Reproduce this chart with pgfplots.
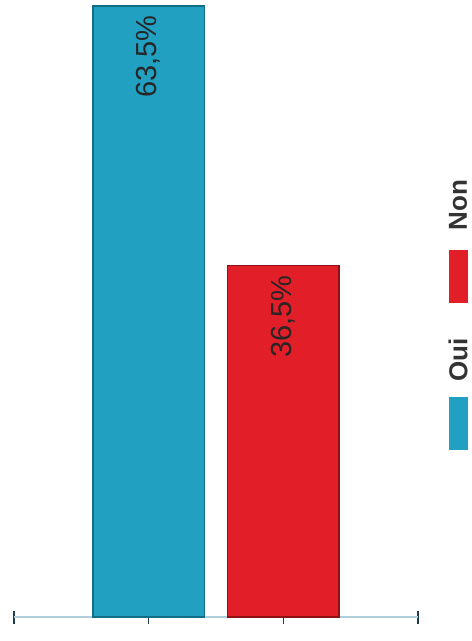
\documentclass[border=0pt]{standalone}
\usepackage{pgfplots}
\pgfplotsset{compat=1.18}
\usepackage{fontspec}
\setmainfont{Liberation Sans}
\definecolor{ouifill}{RGB}{34,160,194}
\definecolor{ouiedge}{RGB}{16,110,134}
\definecolor{nonfill}{RGB}{226,30,40}
\definecolor{nonedge}{RGB}{140,18,24}
\definecolor{axisline}{RGB}{176,206,220}
\definecolor{tickcol}{RGB}{30,60,80}
\begin{document}
\begin{tikzpicture}[x=1pt,y=1pt]
\useasboundingbox (0,0) rectangle (472,641);
\begin{axis}[
  at={(14pt,24pt)}, anchor=south west,
  scale only axis, width=404pt, height=616pt,
  xmin=0, xmax=3, ymin=0, ymax=64,
  axis x line*=bottom, axis y line=none,
  x axis line style={color=axisline, line width=2pt, -},
  xtick={0,1,2,3}, xticklabels={},
  major tick length=13pt, tick align=center,
  tick style={color=tickcol, line width=1.6pt},
  ytick=\empty,
  clip=false,
  bar width=0.83,
  nodes near coords style={rotate=90, anchor=east, inner xsep=9pt, inner ysep=0pt,
    text=black!85, font=\fontsize{29}{30}\selectfont},
]
\addplot[ybar, bar shift=0pt, fill=ouifill, draw=ouiedge, line width=1.5pt,
  point meta=explicit symbolic, nodes near coords]
  coordinates {(1,63.5) [63,5\%]};
\addplot[ybar, bar shift=0pt, fill=nonfill, draw=nonedge, line width=1.5pt,
  point meta=explicit symbolic, nodes near coords]
  coordinates {(2,36.5) [36,5\%]};
\end{axis}
% legend (rotated, reading bottom to top)
\fill[ouifill] (449,191) rectangle (468,244);
\node[rotate=90, inner sep=0pt, text=black!80, font=\bfseries\fontsize{26}{27}\selectfont] at (458,281) {Oui};
\fill[nonfill] (449,338) rectangle (468,391);
\node[rotate=90, inner sep=0pt, text=black!80, font=\bfseries\fontsize{26}{27}\selectfont] at (458,436) {Non};
\end{tikzpicture}
\end{document}
